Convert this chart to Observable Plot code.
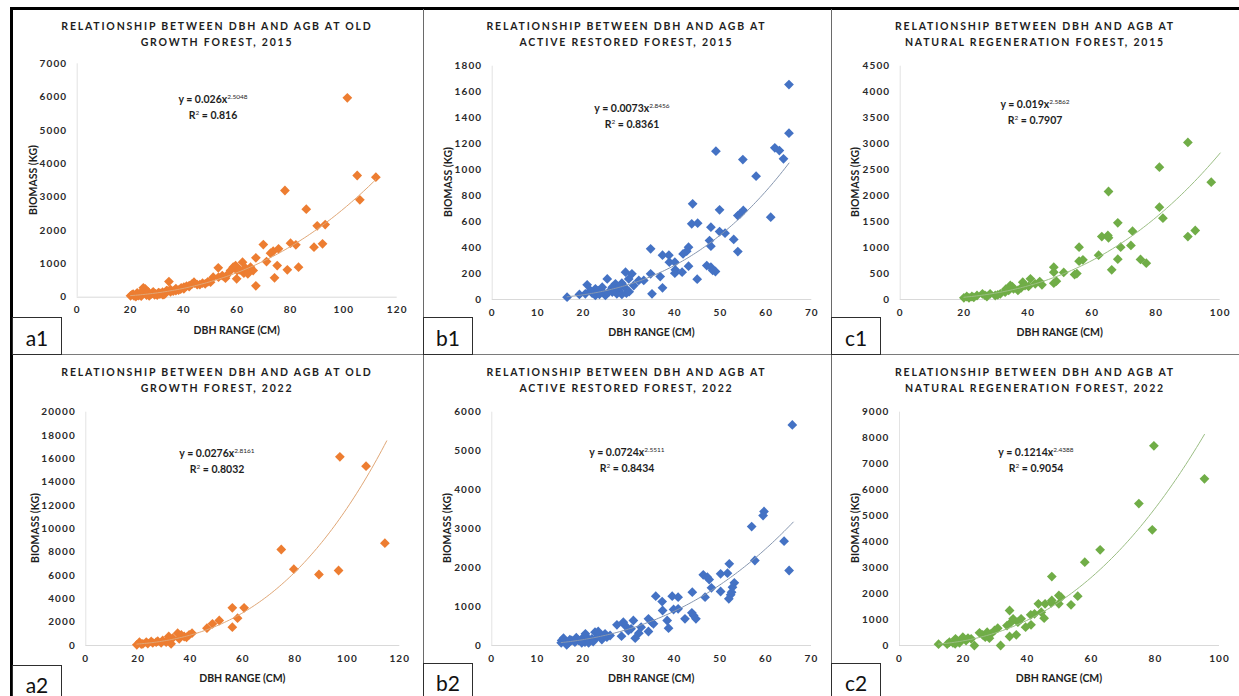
<!DOCTYPE html>
<html><head><meta charset="utf-8">
<script src="https://cdn.jsdelivr.net/npm/d3@7"></script>
<script src="https://cdn.jsdelivr.net/npm/@observablehq/plot@0.6"></script>
<style>
body{margin:0;background:#fff;}
#fig{position:relative;width:1239px;height:696px;overflow:hidden;background:#fff;font-family:Lato,"Liberation Sans",sans-serif;}
#fig svg{position:absolute;overflow:visible;}
#fig svg text{letter-spacing:1.1px;}
.ln{position:absolute;}
.title{position:absolute;text-align:center;font-weight:bold;font-size:10.5px;letter-spacing:1.8px;color:#1e1e1e;line-height:15.5px;white-space:nowrap;}
.ytitle{position:absolute;font-weight:bold;font-size:10.5px;color:#1e1e1e;white-space:nowrap;transform:translate(-50%,-50%) rotate(-90deg);}
.xtitle{position:absolute;font-weight:bold;font-size:10.5px;color:#1e1e1e;white-space:nowrap;transform:translate(-50%,-50%);}
.eq{position:absolute;font-weight:bold;font-size:10.5px;color:#1e1e1e;white-space:nowrap;text-align:center;line-height:15.5px;transform:translateX(-50%);}
.eq sup{font-size:6.5px;font-weight:normal;vertical-align:4px;line-height:0;}
.box{position:absolute;border:1px solid #2e2e2e;box-sizing:border-box;background:#fff;font-size:21px;color:#111;text-align:center;}
</style></head>
<body><div id="fig"></div>
<script>
// ---------- data (DBH cm, biomass kg) ----------
const oldGrowth2015 = [[101.3,5980],[105,3650],[112,3600],[106,2920],[77.9,3200],[85.9,2640],[90,2140],[93,2180],[88.8,1500],[92,1600],[80,1620],[82,1570],[78.8,820],[83,900],[75,950],[74,580],[71,1070],[69.8,1580],[72.5,1320],[73.5,1380],[75.5,1450],[67,1180],[67,340],[65,900],[66,800],[62.5,720],[62,1050],[60,800],[58.5,900],[59.4,950],[59.8,550],[57.5,800],[55.6,570],[54.4,650],[52.9,880],[51,600],[50,450],[48,400],[46,380],[43.8,450],[42,320],[40,300],[38.8,240],[37,200],[34.4,470],[35,160],[33,140],[32.5,80],[31,120],[29.4,100],[27.5,80],[26,120],[25,200],[24.8,280],[23.8,100],[22.5,60],[21.3,40],[20,40],[20.6,80],[21,90],[22,20],[22.5,130],[23,50],[24,30],[24,150],[25.5,250],[26,60],[26.5,170],[27,40],[28,110],[28.5,160],[29,70],[30,60],[30.5,140],[31,90],[32,150],[32,80],[33,110],[33.5,200],[34,190],[35,230],[36,180],[37,260],[38,210],[39,280],[40,250],[41,330],[42,350],[43,390],[44,420],[45,380],[47,420],[49,460],[53,600],[56,650],[61,820],[63,880],[64,700]];
const activeRestored2015 = [[65,1658],[65,1283],[61.9,1170],[62.9,1149],[63.8,1085],[49,1144],[54.9,1080],[57.8,951],[61,635],[43.9,738],[49.8,692],[55,687],[54.3,661],[53.8,648],[47.9,558],[49.8,524],[51,512],[43.7,584],[45,589],[47.6,455],[47.9,411],[52.9,463],[53.8,370],[43,404],[42.6,373],[41.8,352],[43,257],[47,262],[47.9,249],[48.3,224],[48.9,216],[44.9,157],[38.7,342],[37.3,342],[38.8,288],[40,288],[40.1,229],[40,203],[41.6,211],[36.8,177],[34.7,391],[34.7,198],[35,44],[37.3,90],[33.2,147],[32.1,147],[30.6,198],[29.2,211],[29.9,159],[28.4,126],[27,121],[26.3,95],[25.2,159],[24.1,95],[23.2,69],[20.8,113],[20.4,44],[19.1,39],[16.4,18],[21.9,49],[22.6,31],[24.8,31],[25.5,57],[27.7,69],[28.4,39],[29.4,49],[31,108],[26.3,57],[27.3,44],[22.6,82],[24.3,57],[26.8,82],[29,95],[30,60],[28,100],[23.5,40],[21.5,70]];
const naturalRegen2015 = [[89.9,3029],[97.2,2263],[81,2553],[81,1781],[82.1,1569],[89.9,1215],[92.2,1331],[65.1,2083],[68,1479],[72.6,1318],[72.1,1042],[68.9,1009],[68,778],[75.1,772],[76.9,701],[66.1,572],[63,1215],[64.9,1235],[65.1,1190],[62,855],[55.9,1009],[55.9,740],[57.1,765],[54.5,482],[55.2,500],[51.1,521],[48,624],[48,527],[48.8,354],[48,315],[43.6,347],[44.3,283],[40.7,399],[40.1,251],[38.3,334],[37.8,225],[36.8,174],[34.4,270],[33.9,174],[32.8,141],[31.3,109],[28.1,109],[27.1,58],[25.7,109],[24,77],[22.4,58],[20.8,58],[19.9,32],[29.7,77],[35.4,206],[39,270],[42.2,302],[33,200],[35,250],[30.5,90],[26.5,80],[23,40],[21.5,30]];
const oldGrowth2022 = [[97.1,16171],[107.1,15371],[114.3,8771],[74.7,8229],[79.5,6543],[89.1,6086],[96.6,6429],[56,3229],[60.5,3229],[58,2343],[56,1571],[51,2143],[48.4,1857],[46.3,1486],[40.6,1057],[39.5,914],[37.6,771],[35.1,1057],[35.7,571],[31.7,771],[32.6,143],[30.7,286],[29.4,429],[27.5,371],[26.9,286],[25,343],[23.1,286],[21.8,143],[20.5,286],[19.5,57],[21.2,114],[23.7,171],[25.6,229],[28.8,229],[31.3,429],[33.2,629],[36.5,900],[38.5,700]];
const activeRestored2022 = [[65.8,5674],[59.6,3446],[59.4,3343],[56.9,3060],[64,2683],[65.1,1929],[57.6,2186],[52,2100],[51.6,1860],[50.1,1843],[46.3,1817],[47.2,1757],[47.6,1697],[53.1,1611],[48.1,1483],[52.7,1500],[52.5,1371],[50.1,1389],[52.3,1303],[51.9,1200],[46.7,1243],[43.9,1371],[35.9,1269],[39.5,1269],[40.8,1243],[37.3,1131],[37.4,900],[39.8,926],[40.8,943],[43.8,840],[44.2,771],[44.7,686],[42.3,686],[38.4,643],[38.7,446],[34.3,686],[35,600],[35.4,557],[34.3,360],[32.7,471],[32.2,317],[31,643],[31.4,189],[30.5,429],[29.2,514],[28.4,240],[27.4,531],[28.8,600],[29.9,386],[24.8,300],[23.7,274],[22.6,343],[23,214],[21.9,171],[20.8,214],[20.4,86],[19.7,171],[19,129],[18.2,86],[17.5,129],[16.8,69],[16,86],[15.3,129],[15.2,69],[15.7,189],[16.4,17],[17.1,154],[21.2,69],[24.1,154],[25.2,214],[22.2,103],[19.7,69],[25.9,257],[23.3,360],[20.5,300],[18.5,200]];
const naturalRegen2022 = [[79.5,7701],[95.3,6429],[74.8,5477],[79,4461],[62.7,3690],[57.9,3214],[47.6,2661],[55.7,1903],[49.8,1929],[50.5,1864],[53.6,1569],[49.8,1607],[47.6,1736],[47.4,1646],[45.5,1607],[43.4,1607],[44.3,1286],[45.2,1054],[42.2,1221],[41,1183],[41.1,797],[39.4,707],[38,1029],[37,900],[34.9,900],[34.4,1350],[35.5,1029],[36.5,411],[34.4,347],[33.6,771],[31.6,0],[30.7,669],[29.7,579],[28.6,450],[28.1,283],[27.4,514],[26,411],[25,489],[23.4,0],[21.4,283],[20.8,193],[19.3,231],[18.2,154],[17.5,257],[16.7,103],[15.6,129],[14.9,51],[12.2,51],[18.75,103],[19.8,321],[17.4,64],[22.4,257],[26.8,321]];

// power trend lines y = a * x^b as printed on the chart
const trendCoef = ["0.026","0.0073","0.019","0.0276","0.0724","0.1214"];
const trendExp = ["2.5048","2.8456","2.5862","2.8161","2.5511","2.4388"];
const trendR2 = ["0.816","0.8361","0.7907","0.8032","0.8434","0.9054"];
const trendEnd = [112,65,100,115,66,95.3];

const titles = [
  ["RELATIONSHIP BETWEEN DBH AND AGB AT OLD","GROWTH FOREST, 2015"],
  ["RELATIONSHIP BETWEEN DBH AND AGB AT","ACTIVE RESTORED FOREST, 2015"],
  ["RELATIONSHIP BETWEEN DBH AND AGB AT","NATURAL REGENERATION FOREST, 2015"],
  ["RELATIONSHIP BETWEEN DBH AND AGB AT OLD","GROWTH FOREST, 2022"],
  ["RELATIONSHIP BETWEEN DBH AND AGB AT","ACTIVE RESTORED FOREST, 2022"],
  ["RELATIONSHIP BETWEEN DBH AND AGB AT","NATURAL REGENERATION FOREST, 2022"]
];
const panelLabels = ["a1","b1","c1","a2","b2","c2"];
const xMax = [120,70,100,120,70,100];
const xStep = [20,10,20,20,10,20];
const yMax = [7000,1800,4500,20000,6000,9000];
const yStep = [1000,200,500,2000,1000,1000];
const series = [oldGrowth2015,activeRestored2015,naturalRegen2015,oldGrowth2022,activeRestored2022,naturalRegen2022];
const xLabel = "DBH RANGE (CM)";
const yLabel = "BIOMASS (KG)";

// ---------- layout ----------
const colors = ["#ED7D31","#4472C4","#70AD47","#ED7D31","#4472C4","#70AD47"];
const trendColors = ["#E0A777","#8797B0","#9BBE84","#E0A777","#8797B0","#9BBE84"];
const geo = [
  {l:12,t:9,r:422,b:354,x0:76.7,x1:396.7,yt:63.3,y0:296.7,yl:33,ex:213,ey:92},
  {l:423,t:9,r:830,b:354,x0:491.7,x1:811.3,yt:65.7,y0:299,yl:448,ex:632,ey:101},
  {l:831,t:9,r:1239,b:354,x0:899.7,x1:1219.7,yt:65.7,y0:299,yl:855,ex:1035,ey:97},
  {l:12,t:355,r:422,b:696,x0:85.3,x1:399.3,yt:411.7,y0:645,yl:35,ex:217,ey:446},
  {l:423,t:355,r:830,b:696,x0:491.3,x1:811,yt:411.7,y0:645,yl:447,ex:627,ey:445},
  {l:831,t:355,r:1239,b:696,x0:899,x1:1219,yt:411.7,y0:645,yl:855,ex:1036,ey:445}
];
const fig = document.getElementById("fig");
function div(cls, css, html){const d=document.createElement("div");d.className=cls;Object.assign(d.style,css);if(html!=null)d.innerHTML=html;fig.appendChild(d);return d;}
const diamond = d3.symbolDiamond2 || "diamond";

series.forEach((pts,i)=>{
  const g = geo[i];
  const W = g.r-g.l, H = g.b-g.t;
  const a = parseFloat(trendCoef[i]), b = parseFloat(trendExp[i]);
  const xs = d3.min(pts,d=>d[0]);
  const curve = d3.range(0,101).map(k=>{const x = xs + (trendEnd[i]-xs)*k/100; return {x, y:a*Math.pow(x,b)};});
  const svg = Plot.plot({
    width:W, height:H,
    marginLeft:g.x0-g.l, marginRight:g.r-g.x1, marginTop:g.yt-g.t, marginBottom:g.b-g.y0,
    style:{fontFamily:"Lato, 'Liberation Sans', sans-serif", fontSize:"10px", fontWeight:"bold", color:"#2a2a2a", background:"transparent"},
    x:{domain:[0,xMax[i]], ticks:d3.range(0,xMax[i]+1,xStep[i]), tickSize:0, tickPadding:9, label:null, tickFormat:d=>String(d)},
    y:{domain:[0,yMax[i]], ticks:d3.range(0,yMax[i]+1,yStep[i]), tickSize:0, tickPadding:10, label:null, tickFormat:d=>String(d)},
    marks:[
      Plot.ruleY([0],{stroke:"#d9d9d9", strokeWidth:1}),
      Plot.ruleX([0],{stroke:"#e3e3e3", strokeWidth:1}),
      Plot.dot(pts,{x:d=>d[0], y:d=>d[1], symbol:diamond, r:4.4, fill:colors[i], stroke:"none"}),
      Plot.line(curve,{x:"x", y:"y", stroke:trendColors[i], strokeWidth:1})
    ]
  });
  svg.style.left = g.l+"px"; svg.style.top = g.t+"px";
  fig.appendChild(svg);
  // titles & annotations
  div("title",{left:g.l+"px", width:(g.r-g.l)+"px", top:(g.t+10)+"px"}, titles[i].join("<br>"));
  div("ytitle",{left:g.yl+"px", top:((g.yt+g.y0)/2)+"px"}, yLabel);
  div("xtitle",{left:((g.x0+g.x1)/2)+"px", top:(g.y0+33)+"px"}, xLabel);
  div("eq",{left:g.ex+"px", top:g.ey+"px"}, `y = ${trendCoef[i]}x<sup>${trendExp[i]}</sup><br>R<sup>2</sup> = ${trendR2[i]}`);
});

// frame lines
div("ln",{left:"10px",top:"7px",width:"1229px",height:"2.5px",background:"#000"});
div("ln",{left:"10px",top:"7px",width:"2.5px",height:"689px",background:"#000"});
div("ln",{left:"12px",top:"353.5px",width:"1227px",height:"1.6px",background:"#7a7a7a"});
div("ln",{left:"422.5px",top:"9px",width:"1.5px",height:"687px",background:"#6a6a6a"});
div("ln",{left:"830.5px",top:"9px",width:"1.5px",height:"687px",background:"#6a6a6a"});
// panel label boxes
const boxes = [[12,317,62,354.5],[423,317,473,354.5],[831,317,881,354.5],[12,665,62,700],[423,663,473,700],[831,663,881,700]];
boxes.forEach((bx,i)=>{
  div("box",{left:bx[0]+"px",top:bx[1]+"px",width:(bx[2]-bx[0])+"px",height:(bx[3]-bx[1])+"px",lineHeight:(i<3?"40px":"38px")}, panelLabels[i]);
});
</script></body></html>
